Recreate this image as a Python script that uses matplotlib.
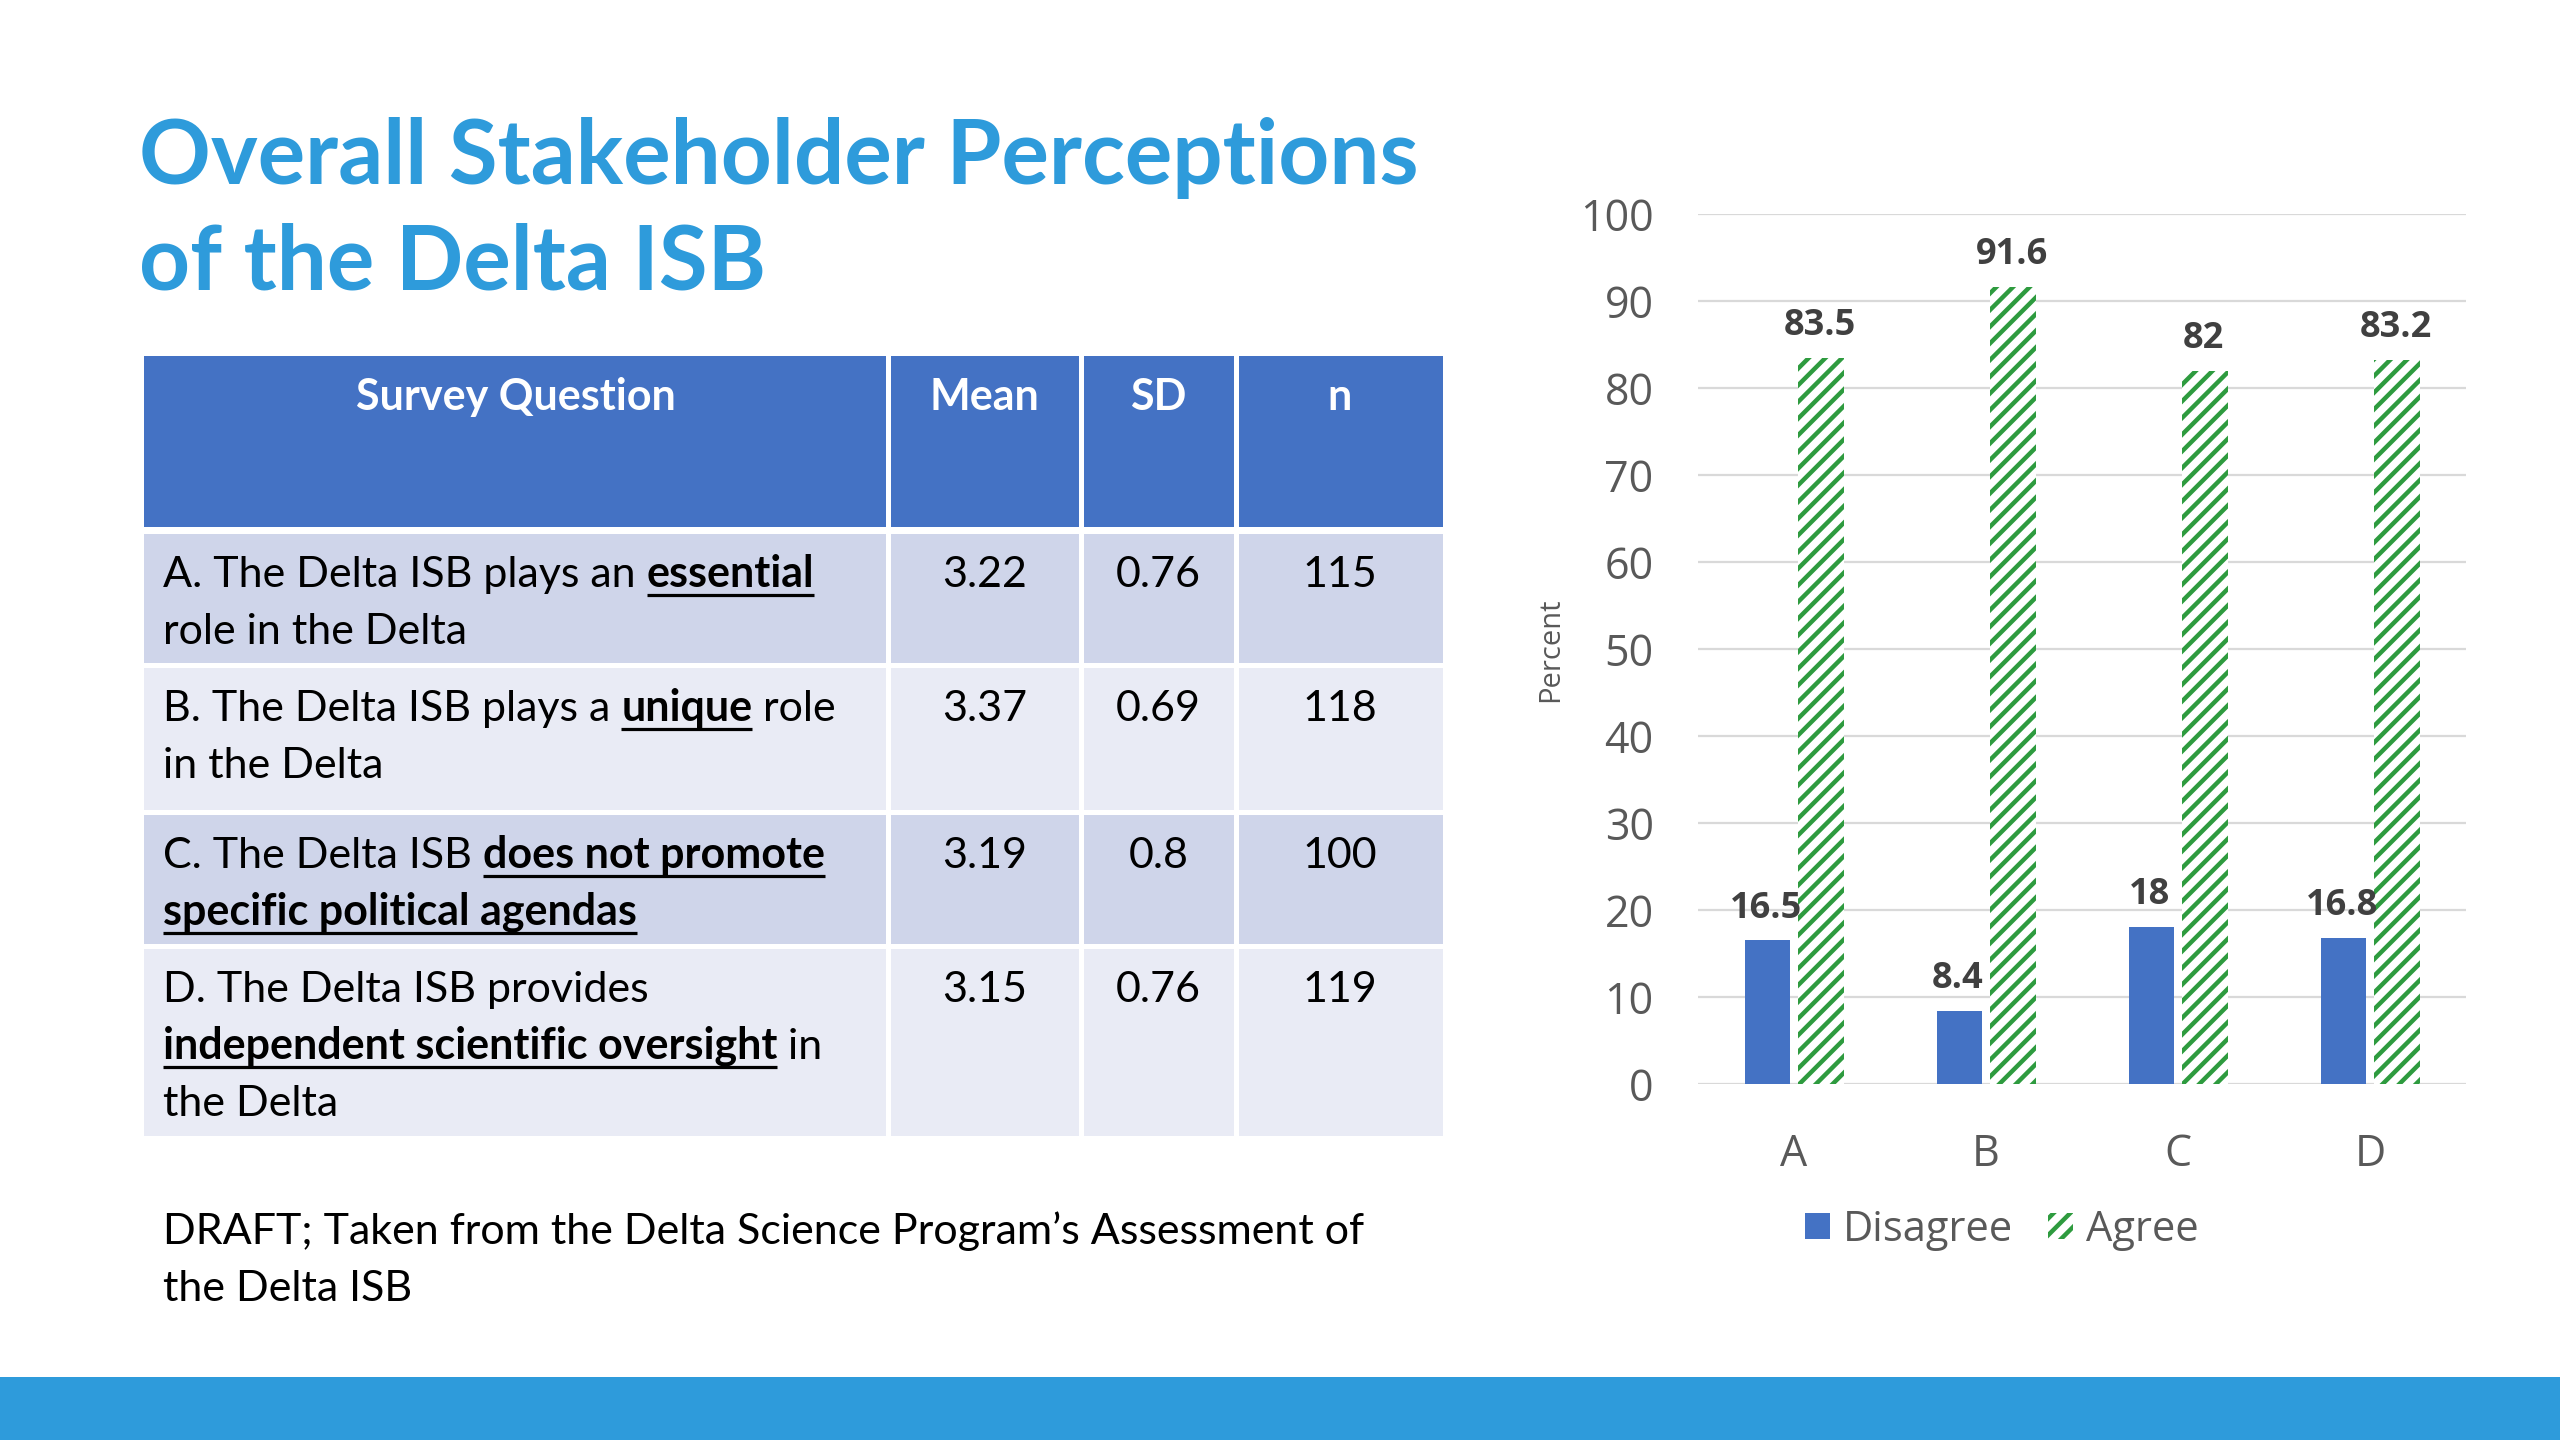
import numpy as np
import matplotlib
matplotlib.use("Agg")
import matplotlib.pyplot as plt
from matplotlib.patches import Rectangle, Patch

# %% data
categories = ["A", "B", "C", "D"]
disagree = [16.5, 8.4, 18, 16.8]
agree = [83.5, 91.6, 82, 83.2]

title_lines = ["Overall Stakeholder Perceptions", "of the Delta ISB"]
table_header = ["Survey Question", "Mean", "SD", "n"]
means = ["3.22", "3.37", "3.19", "3.15"]
sds = ["0.76", "0.69", "0.8", "0.76"]
ns = ["115", "118", "100", "119"]
# each question: lines of (text, emphasised) runs
questions = [
    [[("A. The Delta ISB plays an ", False), ("essential", True)],
     [("role in the Delta", False)]],
    [[("B. The Delta ISB plays a ", False), ("unique", True), (" role", False)],
     [("in the Delta", False)]],
    [[("C. The Delta ISB ", False), ("does not promote", True)],
     [("specific political agendas", True)]],
    [[("D. The Delta ISB provides", False)],
     [("independent scientific oversight", True), (" in", False)],
     [("the Delta", False)]],
]
footnote = ["DRAFT; Taken from the Delta Science Program\u2019s Assessment of",
            "the Delta ISB"]

# %% styles
BLUE = "#4472C4"
GREEN = "#2E9B3F"
TITLE_BLUE = "#2E9BDB"
ROW_DARK = "#CFD5EA"
ROW_LIGHT = "#E9EBF5"
GREY_TXT = "#595959"
TXT_FONT = "Lato"
CHART_FONT = "Open Sans"
TXT_SIZE = 31

plt.rcParams["hatch.linewidth"] = 3.2

fig = plt.figure(figsize=(25.6, 14.4), dpi=100)
bg = fig.add_axes([0, 0, 1, 1])
bg.set_xlim(0, 2560)
bg.set_ylim(1440, 0)
bg.axis("off")
renderer = fig.canvas.get_renderer()


def text_width(s, **kw):
    t = bg.text(0, 0, s + "|", **kw)
    w1 = t.get_window_extent(renderer).width
    t.remove()
    t = bg.text(0, 0, "|", **kw)
    w0 = t.get_window_extent(renderer).width
    t.remove()
    return w1 - w0


def draw_runs(x, y, runs, size=TXT_SIZE, color="black"):
    for s, emph in runs:
        kw = dict(fontsize=size, family=TXT_FONT, color=color,
                  fontweight="bold" if emph else "normal")
        bg.text(x, y, s, va="baseline", ha="left", **kw)
        w = text_width(s, **kw)
        if emph:
            bg.plot([x, x + w], [y + 8, y + 8], color=color, lw=2.3,
                    solid_capstyle="butt")
        x += w


# %% title
bg.text(139, 184, title_lines[0], fontsize=64, fontweight="bold",
        family=TXT_FONT, color=TITLE_BLUE, va="baseline")
bg.text(139, 289, title_lines[1], fontsize=64, fontweight="bold",
        family=TXT_FONT, color=TITLE_BLUE, va="baseline")

# %% table
col_edges = [144, 888, 1081, 1236, 1443]
row_edges = [(356, 527), (534, 663), (668, 810), (815, 944), (949, 1136)]
gap = 2.5
for r, (top, bot) in enumerate(row_edges):
    if r == 0:
        fc = BLUE
    else:
        fc = ROW_DARK if r % 2 == 1 else ROW_LIGHT
    for c in range(4):
        x0 = col_edges[c] + (gap if c > 0 else 0)
        x1 = col_edges[c + 1] - (gap if c < 3 else 0)
        bg.add_patch(Rectangle((x0, top), x1 - x0, bot - top, facecolor=fc,
                               edgecolor="none", zorder=1))

col_centers = [(col_edges[i] + col_edges[i + 1]) / 2 for i in range(4)]
for c, h in enumerate(table_header):
    bg.text(col_centers[c], 410, h, fontsize=TXT_SIZE, fontweight="bold",
            family=TXT_FONT, color="white", ha="center", va="baseline", zorder=2)

line_h = 57
for r, q in enumerate(questions):
    base = row_edges[r + 1][0] + 53
    for i, runs in enumerate(q):
        draw_runs(163, base + i * line_h, runs)
    for c, vals in zip([1, 2, 3], [means, sds, ns]):
        bg.text(col_centers[c], base, vals[r], fontsize=TXT_SIZE,
                family=TXT_FONT, color="black", ha="center", va="baseline")

# footnote
bg.text(163, 1244, footnote[0], fontsize=TXT_SIZE, family=TXT_FONT,
        va="baseline")
bg.text(163, 1301, footnote[1], fontsize=TXT_SIZE, family=TXT_FONT,
        va="baseline")

# bottom bar
bg.add_patch(Rectangle((0, 1377), 2560, 63, facecolor=TITLE_BLUE,
                       edgecolor="none"))

# %% bar chart
ax = fig.add_axes([0.6633, 0.2472, 0.3, 0.6042])
x = np.arange(len(categories))
ax.bar(x - 0.14, disagree, 0.235, color=BLUE, zorder=3)
ax.bar(x + 0.14, agree, 0.24, facecolor="white", edgecolor=GREEN,
       hatch="//", linewidth=0, zorder=3)

for xs, vals in [(x - 0.14, disagree), (x + 0.14, agree)]:
    for xi, v in zip(xs, vals):
        ax.annotate(f"{v:g}", (xi, v), xytext=(-1, 23),
                    textcoords="offset points", ha="center", va="center",
                    fontsize=26, fontweight="bold", family=CHART_FONT,
                    color="#404040")

ax.set_xlim(-0.5, 3.5)
ax.set_ylim(0, 100)
ax.set_yticks(np.arange(0, 101, 10))
ax.set_xticks(x)
ax.set_xticklabels(categories)
ax.grid(axis="y", color="#D9D9D9", lw=1.6, zorder=0)
ax.set_axisbelow(True)
for sp in ax.spines.values():
    sp.set_visible(False)
ax.tick_params(axis="both", length=0, labelsize=31, labelcolor=GREY_TXT)
ax.tick_params(axis="y", pad=32)
ax.tick_params(axis="x", pad=35)
for lbl in ax.get_xticklabels() + ax.get_yticklabels():
    lbl.set_family(CHART_FONT)

fig.text(1551 / 2560, 1 - 650 / 1440, "Percent", rotation=90, ha="center",
         va="center", fontsize=21, family=CHART_FONT, color=GREY_TXT)

handles = [Patch(facecolor=BLUE, edgecolor="none"),
           Patch(facecolor="white", edgecolor=GREEN, hatch="//", linewidth=0)]
fig.legend(handles, ["Disagree", "Agree"], loc="center",
           bbox_to_anchor=(0.782, 0.146), ncol=2, frameon=False,
           prop={"family": CHART_FONT, "size": 30}, labelcolor=GREY_TXT,
           handlelength=0.6, handleheight=0.6, handletextpad=0.3,
           columnspacing=0.85)

fig.savefig("out.png", dpi=100)
